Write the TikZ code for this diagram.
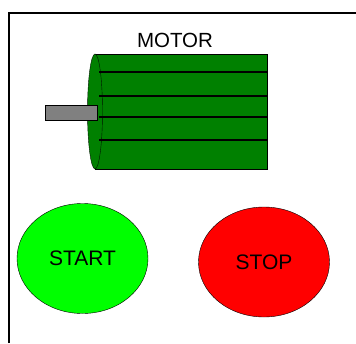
\documentclass[tikz,border=0pt]{standalone}
\usepackage{fontspec}
\setmainfont{Liberation Sans}
\usepackage{tikz}
\usetikzlibrary{shapes.geometric}
\definecolor{motorgreen}{RGB}{0,128,0}
\definecolor{shaftgray}{RGB}{128,128,128}
\definecolor{startgreen}{RGB}{0,255,0}
\definecolor{stopred}{RGB}{255,0,0}
\tikzset{
  button/.style = {ellipse, draw=black, thin, inner sep=0pt,
    minimum width=131pt, minimum height=110pt,
    font=\fontsize{21}{25}\selectfont},
  caption/.style = {inner sep=0pt, font=\fontsize{20.5}{24}\selectfont},
  stripe/.style = {line width=2.8pt, black},
}

\begin{document}
\begin{tikzpicture}[x=1pt,y=-1pt]
\useasboundingbox (0,0) rectangle (356,343);
% frame
\draw[line width=2pt] (9,343) -- (9,13) -- (356,13);
% motor
\node [caption] (motorlabel) at (175,40) {MOTOR};
\draw[fill=motorgreen, thin] (95,54) rectangle (267,169);
\draw[fill=motorgreen, draw=black!85!motorgreen] (95,111.5) ellipse (7.5 and 57.5);
\foreach \y in {72,96,117,140}
  \draw[stripe] (99,\y) -- (268,\y);
\draw[fill=shaftgray, thin] (45,105) rectangle (97,120);
% buttons
\node [button, fill=startgreen] (start) at (82.5,258.5) {START};
\node [button, fill=stopred] (stop) at (264,262) {STOP};
\end{tikzpicture}
\end{document}
